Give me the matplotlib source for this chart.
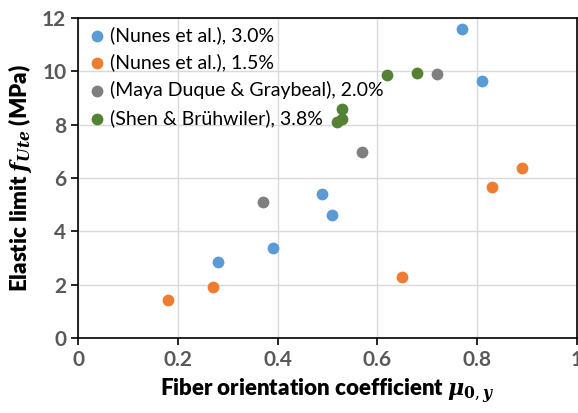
import matplotlib
matplotlib.use("Agg")
import matplotlib.pyplot as plt

blue_x = [0.28, 0.39, 0.49, 0.51, 0.77, 0.81]
blue_y = [2.87, 3.37, 5.40, 4.62, 11.61, 9.64]
orange_x = [0.18, 0.27, 0.65, 0.83, 0.89]
orange_y = [1.43, 1.90, 2.30, 5.66, 6.38]
gray_x = [0.37, 0.57, 0.72]
gray_y = [5.10, 6.97, 9.89]
green_x = [0.62, 0.68, 0.53, 0.52, 0.53]
green_y = [9.85, 9.95, 8.61, 8.09, 8.20]

labels = ["(Nunes et al.), 3.0%", "(Nunes et al.), 1.5%",
          "(Maya Duque & Graybeal), 2.0%", "(Shen & Brühwiler), 3.8%"]
xticks = [0, 0.2, 0.4, 0.6, 0.8, 1]
xticklabels = ["0", "0.2", "0.4", "0.6", "0.8", "1"]
yticks = [0, 2, 4, 6, 8, 10, 12]

plt.rcParams['font.family'] = ['Lato', 'DejaVu Sans']
plt.rcParams['mathtext.fontset'] = 'dejavuserif'

fig = plt.figure(figsize=(5.78, 4.13), dpi=100)
ax = fig.add_axes([0.135, 0.1816, 0.863, 0.7744])

cols = ['#5B9BD5', '#ED7D31', '#7F7F7F', '#548235']
data = [(blue_x, blue_y), (orange_x, orange_y), (gray_x, gray_y), (green_x, green_y)]
for (xs, ys), c, lab in zip(data, cols, labels):
    ax.scatter(xs, ys, s=72, color=c, label=lab, zorder=3, linewidths=0)

ax.set_xlim(0, 1)
ax.set_ylim(0, 12)
ax.set_xticks(xticks)
ax.set_xticklabels(xticklabels)
ax.set_yticks(yticks)
ax.grid(True, color='#D9D9D9', linewidth=1, zorder=0)
ax.set_axisbelow(True)
for sp in ax.spines.values():
    sp.set_color('black')
    sp.set_linewidth(1.2)
ax.tick_params(axis='both', direction='out', length=5, width=1.2, color='black',
               labelsize=15, labelcolor='#595959')
for lab in ax.get_xticklabels() + ax.get_yticklabels():
    lab.set_fontweight('bold')

ax.set_xlabel(r"Fiber orientation coefficient $\mathbfit{\mu}_{\mathbf{0},\mathbfit{y}}$",
              fontsize=16, fontweight='heavy', labelpad=5)
ax.set_ylabel(r"Elastic limit $\mathbfit{f}_{\mathbfit{Ute}}$ (MPa)",
              fontsize=16, fontweight='heavy', labelpad=6)

leg = ax.legend(loc='upper left', frameon=False, fontsize=14, handletextpad=0.05,
                borderaxespad=0.1, labelspacing=0.5, handlelength=1.2,
                borderpad=0.3)

fig.savefig("out.png", dpi=100)
